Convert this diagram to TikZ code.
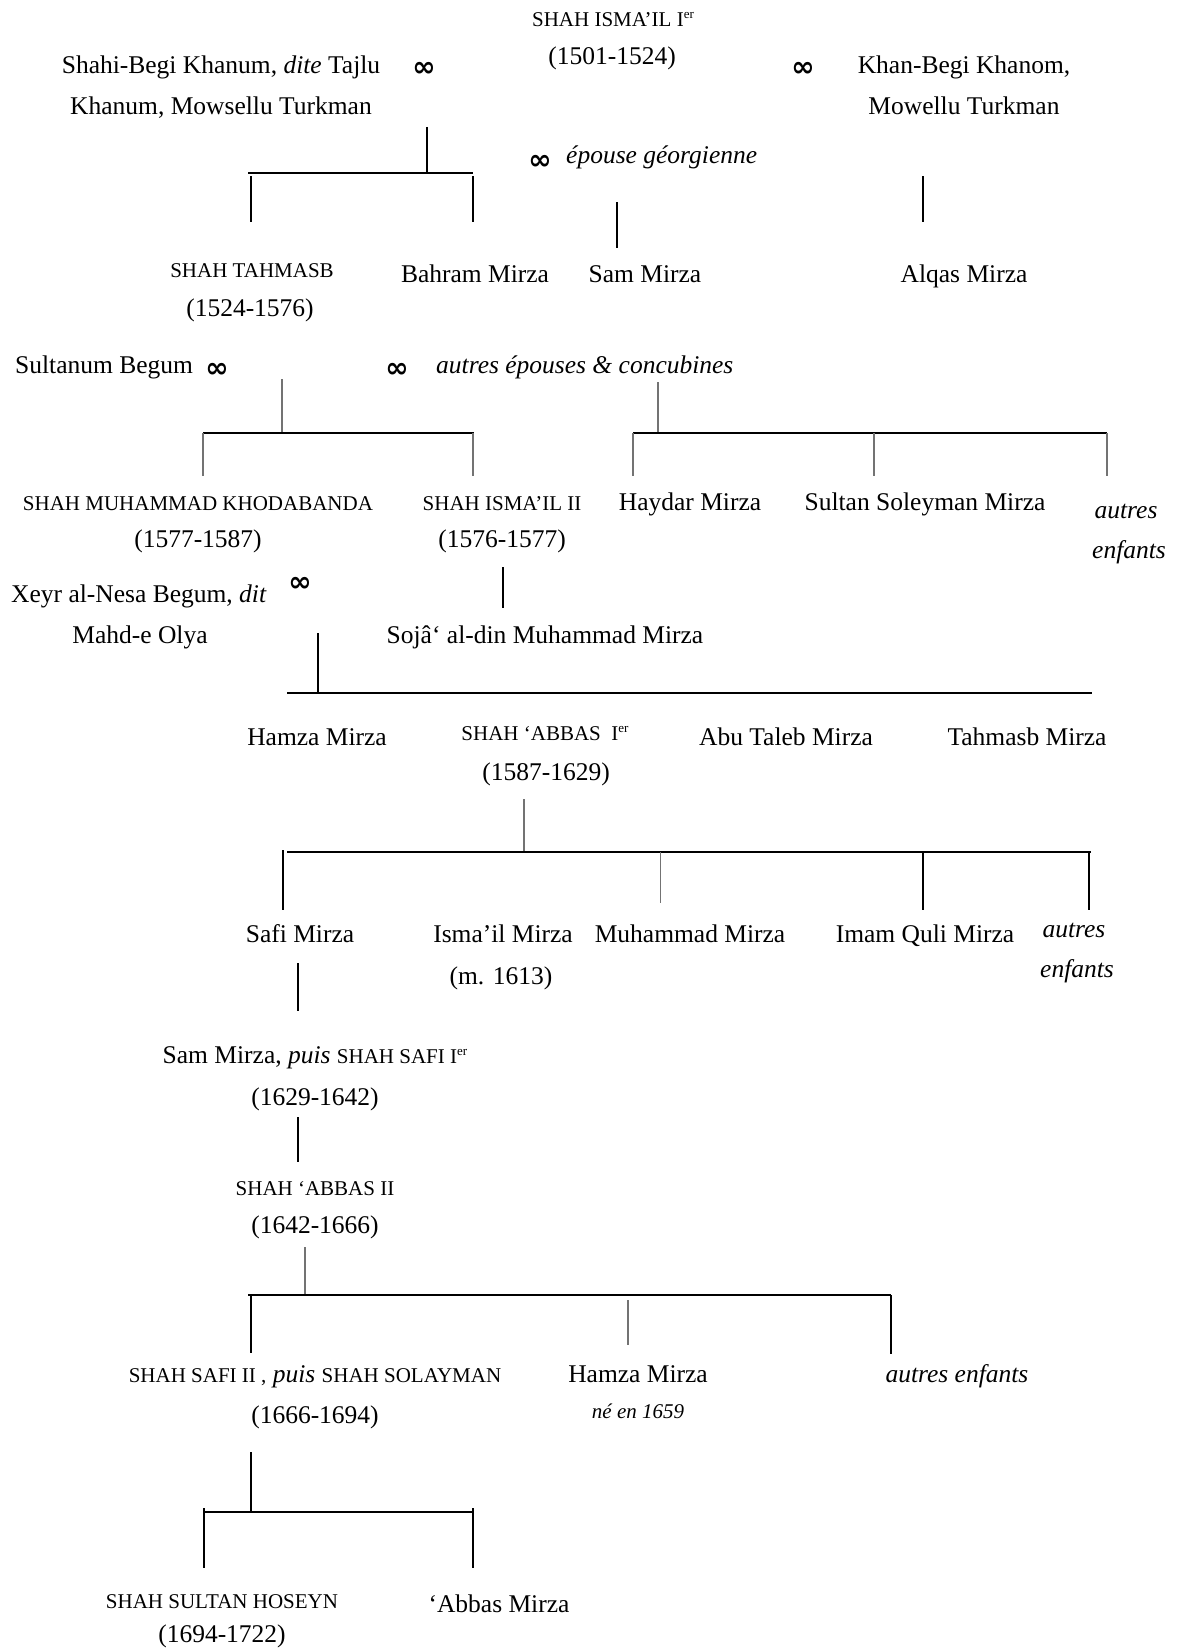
\documentclass[tikz,border=0pt]{standalone}
\usepackage{fontspec}
\setmainfont{Liberation Serif}
\newfontfamily\symfont{DejaVu Sans}
\newcommand\capt[1]{{\fontsize{21}{25}\selectfont #1}}
\newcommand\ersup{\raisebox{8pt}{\fontsize{13}{13}\selectfont er}}
\begin{document}
\begin{tikzpicture}[x=1pt,y=-1pt,
  txt/.style={anchor=base, inner sep=0pt, font=\fontsize{25.5}{30}\selectfont},
  txtw/.style={txt, anchor=base west},
  captxt/.style={anchor=base, inner sep=0pt, font=\fontsize{21}{25}\selectfont},
  itx/.style={txt, font=\fontsize{25.5}{30}\selectfont\itshape},
  marr/.style={anchor=base, inner sep=0pt, font=\symfont\fontsize{28}{30}\selectfont\bfseries},
  bar/.style={line width=2.4pt, black},
  blk/.style={line width=2pt, black},
  gry/.style={line width=1.4pt, black!55}]
\fill[white] (0,0) rectangle (1177,1651);
\useasboundingbox (0,0) rectangle (1177,1651);

% ---------- generation 1
\node[captxt] (ismail1) at (613,27) {SHAH ISMA’IL I\ersup};
\node[txt] (ismail1d) at (612,65) {(1501-1524)};
\node[txt] (shahi1) at (221,74) {Shahi-Begi Khanum, \textit{dite} Tajlu};
\node[txt] (shahi2) at (221,115) {Khanum, Mowsellu Turkman};
\node[marr] (inf1) at (424,77) {∞};
\node[marr] (inf2) at (803,77) {∞};
\node[txt] (khan1) at (964,74) {Khan-Begi Khanom,};
\node[txt] (khan2) at (964,115) {Mowellu Turkman};
\node[marr] (inf3) at (540,169) {∞};
\node[itx, anchor=base west] (georg) at (566,164) {épouse géorgienne};

% ---------- generation 2
\node[captxt] (tahmasb) at (252,277) {SHAH TAHMASB};
\node[txt] (tahmasbd) at (250,316) {(1524-1576)};
\node[txt] (bahram) at (475,282) {Bahram Mirza};
\node[txt] (sam) at (645,282) {Sam Mirza};
\node[txt] (alqas) at (964,282) {Alqas Mirza};

\node[txtw] (sultanum) at (15,373) {Sultanum Begum};
\node[marr] (inf4) at (217,377) {∞};
\node[marr] (inf5) at (397,377) {∞};
\node[itx, anchor=base west] (autresep) at (436,373) {autres épouses \& concubines};

% ---------- generation 3
\node[captxt] (khoda) at (198,510) {SHAH MUHAMMAD KHODABANDA};
\node[txt] (khodad) at (198,547) {(1577-1587)};
\node[captxt] (ismail2) at (502,510) {SHAH ISMA’IL II};
\node[txt] (ismail2d) at (502,547) {(1576-1577)};
\node[txt] (haydar) at (690,510) {Haydar Mirza};
\node[txt] (soleyman) at (925,510) {Sultan Soleyman Mirza};
\node[itx] (autres1) at (1126,518) {autres};
\node[itx] (autres1b) at (1129,558) {enfants};

\node[txtw] (xeyr1) at (11,602) {Xeyr al-Nesa Begum, \textit{dit}};
\node[txt] (xeyr2) at (140,643) {Mahd-e Olya};
\node[marr] (inf6) at (300,591) {∞};
\node[txt] (soja) at (545,643) {Sojâ‘ al-din Muhammad Mirza};

% ---------- generation 4
\node[txt] (hamza1) at (317,745) {Hamza Mirza};
\node[captxt] (abbas1) at (545,740) {SHAH ‘ABBAS\ \ I\ersup};
\node[txt] (abbas1d) at (546,780) {(1587-1629)};
\node[txt] (abutaleb) at (786,745) {Abu Taleb Mirza};
\node[txt] (tahmasbm) at (1027,745) {Tahmasb Mirza};

% ---------- generation 5
\node[txt] (safi) at (300,942) {Safi Mirza};
\node[txt] (ismailm) at (503,942) {Isma’il Mirza};
\node[txt] (ismailmd) at (501,984) {(m. 1613)};
\node[txt] (muhammad) at (690,942) {Muhammad Mirza};
\node[txt] (imam) at (925,942) {Imam Quli Mirza};
\node[itx] (autres2) at (1074,937) {autres};
\node[itx] (autres2b) at (1077,977) {enfants};

% ---------- generation 6
\node[txt] (samsafi) at (315,1063) {Sam Mirza, \textit{puis} \capt{SHAH SAFI I\ersup}};
\node[txt] (samsafid) at (315,1105) {(1629-1642)};
\node[captxt] (abbas2) at (315,1195) {SHAH ‘ABBAS II};
\node[txt] (abbas2d) at (315,1233) {(1642-1666)};

% ---------- generation 7
\node[txt] (solayman) at (315,1382) {\capt{SHAH SAFI II ,} \textit{puis} \capt{SHAH SOLAYMAN}};
\node[txt] (solaymand) at (315,1423) {(1666-1694)};
\node[txt] (hamza2) at (638,1382) {Hamza Mirza};
\node[anchor=base, inner sep=0pt, font=\fontsize{21}{25}\selectfont\itshape] (ne) at (638,1418) {né en 1659};
\node[itx] (autres3) at (957,1382) {autres enfants};

% ---------- generation 8
\node[captxt] (hoseyn) at (222,1608) {SHAH SULTAN HOSEYN};
\node[txt] (hoseynd) at (222,1642) {(1694-1722)};
\node[txt] (abbasm) at (499,1612) {‘Abbas Mirza};

% ---------- connector coordinates
\coordinate (a1) at (427,127); \coordinate (a2) at (427,173);
\coordinate (a3) at (248,173); \coordinate (a4) at (473,173);
\coordinate (a5) at (251,176); \coordinate (a6) at (251,222);
\coordinate (a7) at (473,176); \coordinate (a8) at (473,222);
\coordinate (s1) at (617,202); \coordinate (s2) at (617,248);
\coordinate (q1) at (923,176); \coordinate (q2) at (923,222);

\coordinate (b1) at (282,379); \coordinate (b2) at (282,433);
\coordinate (b3) at (203,433); \coordinate (b4) at (474,433);
\coordinate (b5) at (203,476); \coordinate (b6) at (473,476);
\coordinate (b7) at (473,433);

\coordinate (c1) at (658,382); \coordinate (c2) at (658,433);
\coordinate (c3) at (633,433); \coordinate (c4) at (1107,433);
\coordinate (c5) at (633,476); \coordinate (c6) at (874,433);
\coordinate (c7) at (874,476); \coordinate (c8) at (1107,476);

\coordinate (d1) at (503,567); \coordinate (d2) at (503,608);

\coordinate (e1) at (318,633); \coordinate (e2) at (318,693);
\coordinate (e3) at (287,693); \coordinate (e4) at (1092,693);

\coordinate (f1) at (524,799); \coordinate (f2) at (524,851);
\coordinate (f3) at (287,852); \coordinate (f4) at (1091,852);
\coordinate (f5) at (283,850); \coordinate (f6) at (283,910);
\coordinate (f7) at (660,852); \coordinate (f8) at (660,903);
\coordinate (f9) at (923,852); \coordinate (f10) at (923,910);
\coordinate (f11) at (1089,852); \coordinate (f12) at (1089,910);

\coordinate (g1) at (298,963); \coordinate (g2) at (298,1011);
\coordinate (h1) at (298,1117); \coordinate (h2) at (298,1162);

\coordinate (i1) at (305,1247); \coordinate (i2) at (305,1294);
\coordinate (i3) at (248,1295); \coordinate (i4) at (891,1295);
\coordinate (i5) at (251,1295); \coordinate (i6) at (251,1353);
\coordinate (i7) at (628,1300); \coordinate (i8) at (628,1345);
\coordinate (i9) at (891,1295); \coordinate (i10) at (891,1354);

\coordinate (j1) at (251,1452); \coordinate (j2) at (251,1512);
\coordinate (j3) at (204,1512); \coordinate (j4) at (473,1512);
\coordinate (j5) at (204,1508); \coordinate (j6) at (204,1568);
\coordinate (j7) at (473,1508); \coordinate (j8) at (473,1568);

% ---------- connectors
\draw[blk] (a1) -- (a2);
\draw[bar] (a3) -- (a4);
\draw[blk] (a5) -- (a6);
\draw[blk] (a7) -- (a8);
\draw[blk] (s1) -- (s2);
\draw[blk] (q1) -- (q2);

\draw[gry] (b1) -- (b2);
\draw[bar] (b3) -- (b4);
\draw[gry] (b3) -- (b5);
\draw[gry] (b7) -- (b6);

\draw[gry] (c1) -- (c2);
\draw[bar] (c3) -- (c4);
\draw[gry] (c3) -- (c5);
\draw[gry] (c6) -- (c7);
\draw[gry] (c4) -- (c8);

\draw[blk] (d1) -- (d2);

\draw[blk] (e1) -- (e2);
\draw[bar] (e3) -- (e4);

\draw[gry] (f1) -- (f2);
\draw[bar] (f3) -- (f4);
\draw[blk] (f5) -- (f6);
\draw[gry, line width=1pt] (f7) -- (f8);
\draw[blk] (f9) -- (f10);
\draw[blk] (f11) -- (f12);

\draw[blk] (g1) -- (g2);
\draw[blk] (h1) -- (h2);

\draw[gry] (i1) -- (i2);
\draw[bar] (i3) -- (i4);
\draw[blk] (i5) -- (i6);
\draw[gry] (i7) -- (i8);
\draw[blk] (i9) -- (i10);

\draw[blk] (j1) -- (j2);
\draw[bar] (j3) -- (j4);
\draw[blk] (j5) -- (j6);
\draw[blk] (j7) -- (j8);
\end{tikzpicture}
\end{document}
